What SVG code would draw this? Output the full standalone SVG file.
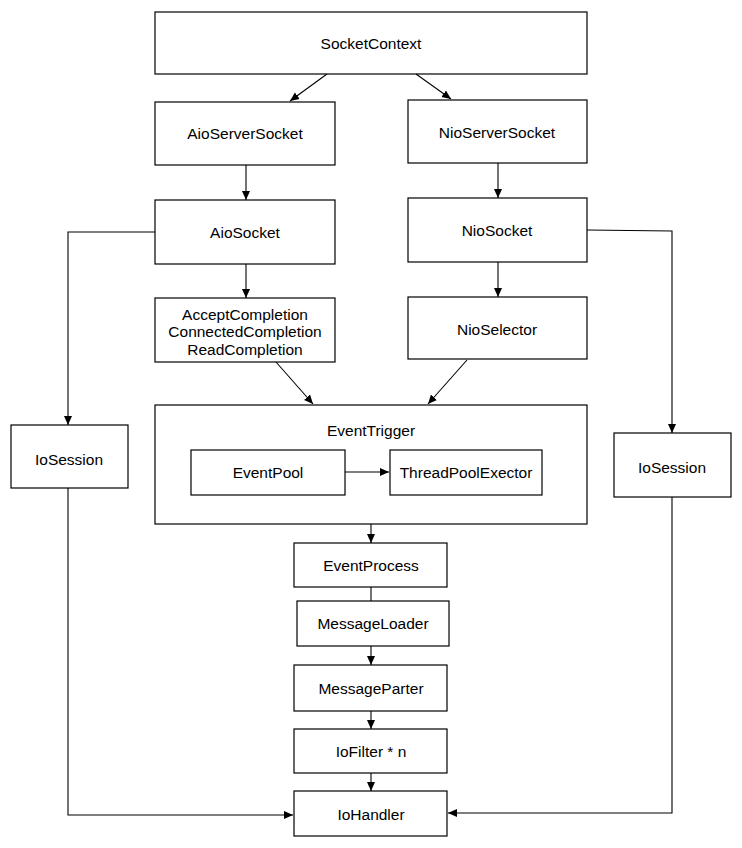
<svg xmlns="http://www.w3.org/2000/svg" width="742" height="848" viewBox="0 0 742 848">
<defs>
<marker id="ah" markerWidth="10" markerHeight="10" refX="9" refY="5" orient="auto" markerUnits="userSpaceOnUse">
<path d="M0,1 L9,5 L0,9 Z" fill="#000"/>
</marker>
<style>
.box{fill:#fff;stroke:#000;stroke-width:1.2}
.t{font-family:"Liberation Sans",Arial,sans-serif;font-size:15.5px;fill:#000;text-anchor:middle;dominant-baseline:central}
.c{fill:none;stroke:#000;stroke-width:1.1}
.a{marker-end:url(#ah)}
</style>
</defs>
<rect width="742" height="848" fill="#fff"/>
<g id="SocketContext"><rect class="box" x="155" y="12" width="432" height="62"/><text class="t" x="371" y="43">SocketContext</text></g>
<g id="AioServerSocket"><rect class="box" x="155" y="102" width="180" height="63"/><text class="t" x="245" y="133">AioServerSocket</text></g>
<g id="NioServerSocket"><rect class="box" x="408" y="100" width="179" height="63"/><text class="t" x="497" y="132">NioServerSocket</text></g>
<g id="AioSocket"><rect class="box" x="155" y="200" width="180" height="64"/><text class="t" x="245" y="232">AioSocket</text></g>
<g id="NioSocket"><rect class="box" x="408" y="198" width="179" height="64"/><text class="t" x="497" y="230">NioSocket</text></g>
<g id="Completion"><rect class="box" x="155" y="298" width="180" height="64"/><text class="t" x="245" y="314">AcceptCompletion</text><text class="t" x="245" y="331">ConnectedCompletion</text><text class="t" x="245" y="349">ReadCompletion</text></g>
<g id="NioSelector"><rect class="box" x="408" y="297" width="179" height="62"/><text class="t" x="497" y="329">NioSelector</text></g>
<g id="EventTrigger"><rect class="box" x="155" y="405" width="432" height="119"/><text class="t" x="371" y="430">EventTrigger</text></g>
<g id="EventPool"><rect class="box" x="191" y="450" width="154" height="45"/><text class="t" x="268" y="472">EventPool</text></g>
<g id="ThreadPoolExector"><rect class="box" x="390" y="450" width="152" height="45"/><text class="t" x="466" y="472">ThreadPoolExector</text></g>
<g id="IoSessionLeft"><rect class="box" x="11" y="425" width="117" height="63"/><text class="t" x="69" y="459">IoSession</text></g>
<g id="IoSessionRight"><rect class="box" x="614" y="433" width="117" height="64"/><text class="t" x="672" y="467">IoSession</text></g>
<g id="EventProcess"><rect class="box" x="294" y="543" width="153" height="44"/><text class="t" x="371" y="565">EventProcess</text></g>
<g id="MessageLoader"><rect class="box" x="297" y="601" width="152" height="45"/><text class="t" x="373" y="623">MessageLoader</text></g>
<g id="MessageParter"><rect class="box" x="294" y="665" width="153" height="46"/><text class="t" x="371" y="688">MessageParter</text></g>
<g id="IoFilter"><rect class="box" x="294" y="729" width="153" height="44"/><text class="t" x="371" y="751">IoFilter * n</text></g>
<g id="IoHandler"><rect class="box" x="294" y="791" width="153" height="45"/><text class="t" x="371" y="814">IoHandler</text></g>
<g id="connectors">
<line class="c a" x1="327" y1="74" x2="290" y2="101"/>
<line class="c a" x1="416" y1="74" x2="451" y2="99"/>
<line class="c a" x1="246" y1="165" x2="246" y2="200"/>
<line class="c a" x1="498" y1="163" x2="498" y2="198"/>
<polyline class="c a" points="155,232 68,232 68,425"/>
<polyline class="c a" points="587,230 672,231 672,433"/>
<line class="c a" x1="246" y1="264" x2="246" y2="298"/>
<line class="c a" x1="498" y1="262" x2="498" y2="297"/>
<line class="c a" x1="276" y1="362" x2="313" y2="404"/>
<line class="c a" x1="467" y1="360" x2="428" y2="404"/>
<line class="c a" x1="345" y1="472" x2="389" y2="472"/>
<line class="c a" x1="371" y1="524" x2="371" y2="543"/>
<line class="c" x1="371" y1="587" x2="371" y2="601"/>
<line class="c a" x1="371" y1="646" x2="371" y2="665"/>
<line class="c a" x1="371" y1="711" x2="371" y2="729"/>
<line class="c a" x1="371" y1="773" x2="371" y2="791"/>
<polyline class="c a" points="68,488 68,815 293,815"/>
<polyline class="c a" points="672,497 672,813 448,813"/>
</g>
</svg>
